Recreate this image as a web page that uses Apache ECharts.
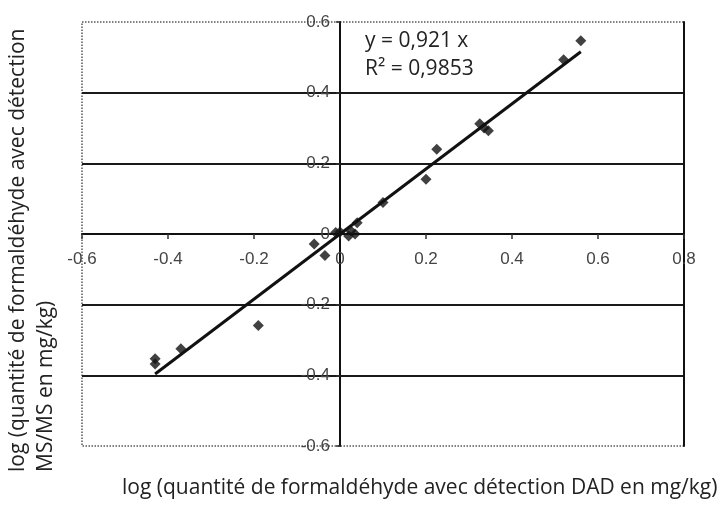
<!DOCTYPE html>
<html>
<head>
<meta charset="utf-8">
<script src="https://cdn.jsdelivr.net/npm/echarts@6/dist/echarts.min.js"></script>
<style>
  html, body { margin: 0; padding: 0; background: #fff; }
  #chart { width: 718px; height: 506px; }
</style>
</head>
<body>
<div id="chart"></div>
<script>
// DAD (x) vs MS/MS (y), log values
const dadLog = [-0.43, -0.43, -0.37, -0.19, -0.06, -0.035, -0.01, 0.0, 0.02, 0.025, 0.035, 0.04, 0.10, 0.20, 0.225, 0.325, 0.335, 0.345, 0.52, 0.56];
const msLog  = [-0.353, -0.368, -0.325, -0.259, -0.028, -0.061, 0.004, 0.006, -0.006, 0.009, 0.0, 0.032, 0.089, 0.155, 0.24, 0.312, 0.30, 0.292, 0.493, 0.547];
const slope = 0.921;
const r2 = '0,9853';

const points = dadLog.map((x, i) => [x, msLog[i]]);
const xMin = Math.min(...dadLog);
const xMax = Math.max(...dadLog);
const trend = [[xMin, slope * xMin], [xMax, slope * xMax]];

// plot box, and the offsets that move the axes onto the zero cross
const gl = 82, gr = 34, gt = 22, gb = 60;
const W = 718, H = 506;
const xZeroShift = -((H - gt - gb) * 0.5);          // y range -0.6..0.6
const yZeroShift = -((W - gl - gr) * 0.6 / 1.4);    // x range -0.6..0.8

const labelFont = { color: '#444', fontSize: 17, fontFamily: 'Liberation Sans, Arial, sans-serif' };
const titleFont = 'Open Sans, sans-serif';

const chart = echarts.init(document.getElementById('chart'));
chart.setOption({
  backgroundColor: '#fff',
  animation: false,
  grid: {
    left: gl, right: gr, top: gt, bottom: gb,
    show: true,
    borderColor: '#555',
    borderWidth: 1.5,
    borderType: 'dotted'
  },
  xAxis: {
    type: 'value',
    min: -0.6, max: 0.8, interval: 0.2,
    offset: xZeroShift,
    axisLine: { show: true, onZero: false, lineStyle: { color: '#111', width: 2 } },
    axisTick: { show: true, length: 5, lineStyle: { color: '#333', width: 1.5 } },
    axisLabel: Object.assign({ margin: 17 }, labelFont),
    splitLine: { show: false }
  },
  yAxis: [{
    type: 'value',
    min: -0.6, max: 0.6, interval: 0.2,
    offset: yZeroShift,
    axisLine: { show: true, onZero: false, lineStyle: { color: '#111', width: 2 } },
    axisTick: { show: true, length: 4, lineStyle: { color: '#333', width: 1.5 } },
    axisLabel: Object.assign({ margin: 10 }, labelFont),
    splitLine: {
      show: true, showMinLine: false, showMaxLine: false,
      lineStyle: { color: '#1a1a1a', width: 2 }
    }
  }, {
    type: 'value',
    position: 'right',
    min: -0.6, max: 0.6, interval: 0.2,
    axisLine: { show: true, onZero: false, lineStyle: { color: '#111', width: 2 } },
    axisTick: { show: false },
    axisLabel: { show: false },
    splitLine: { show: false }
  }],
  series: [
    {
      type: 'scatter',
      data: points,
      symbol: 'diamond',
      symbolSize: 11,
      itemStyle: { color: '#111' },
      z: 3
    },
    {
      type: 'line',
      data: trend,
      symbol: 'none',
      lineStyle: { color: '#111', width: 3 },
      z: 4
    }
  ],
  graphic: [
    {
      type: 'text', left: 365, top: 31,
      style: { text: 'y = 0,921 x', fill: '#222', font: '21px ' + titleFont }
    },
    {
      type: 'text', left: 365, top: 59,
      style: { text: 'R² = ' + r2, fill: '#222', font: '21px ' + titleFont }
    },
    {
      type: 'text', left: 122, top: 478,
      style: { text: 'log (quantité de formaldéhyde avec détection DAD en mg/kg)', fill: '#222', font: '21px ' + titleFont }
    },
    {
      type: 'text', x: 4, y: 472, rotation: Math.PI / 2,
      style: { text: 'log (quantité de formaldéhyde avec détection\nMS/MS en mg/kg)', fill: '#222', font: '21px ' + titleFont, lineHeight: 28, align: 'left', verticalAlign: 'top' }
    }
  ]
});
</script>
</body>
</html>
